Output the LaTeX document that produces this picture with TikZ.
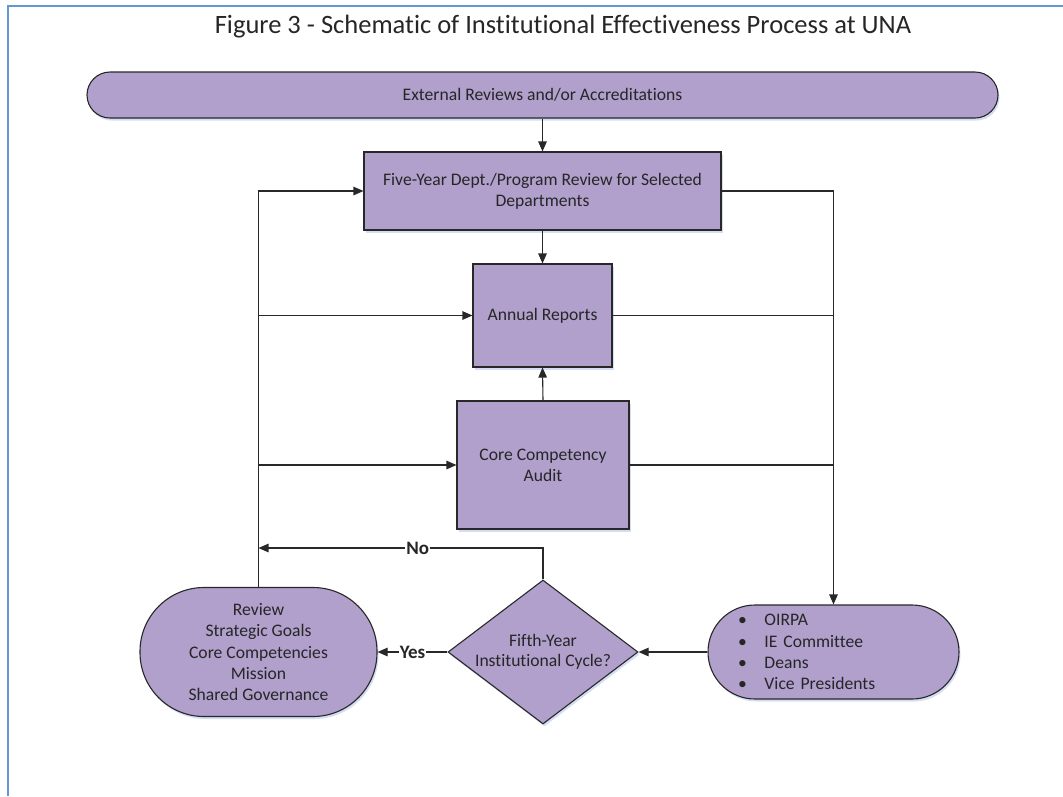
\documentclass[tikz,border=0pt]{standalone}
\usepackage{fontspec}
\setmainfont{Carlito}[Ligatures=NoCommon]
\usetikzlibrary{arrows.meta,shapes.geometric,shadows}
\definecolor{boxfill}{RGB}{177,159,204}
\definecolor{boxline}{RGB}{40,40,40}
\definecolor{txt}{RGB}{38,38,38}
\definecolor{framecol}{RGB}{100,150,210}
\definecolor{shadowcol}{RGB}{212,222,242}
\newcommand\oirbul{\makebox[26.5pt][l]{•}}
\begin{document}
\begin{tikzpicture}[x=1pt,y=-1pt,
  shp/.style={draw=boxline, fill=boxfill, line width=1.1pt, text=txt,
    font=\fontsize{17.6}{21.3}\selectfont, align=center, inner sep=0pt,
    drop shadow={shadow xshift=1.5pt, shadow yshift=-2.5pt, fill=shadowcol, opacity=1}},
  plaintext/.style={text=txt, font=\fontsize{17.6}{20.5}\selectfont, align=center, inner sep=0pt},
  arr/.style={draw=boxline, line width=1.1pt, -{Triangle[length=10pt,width=8.5pt]}},
  ln/.style={draw=boxline, line width=1.1pt},
  lbl/.style={fill=white, text=txt, font=\bfseries\fontsize{19}{22}\selectfont, inner sep=1pt}
]
\useasboundingbox (0,0) rectangle (1063,796);
\draw[framecol, line width=1.5pt] (8,796) -- (8,6) -- (1063,6);

\node[text=txt, font=\fontsize{26.5}{30}\selectfont, anchor=base, inner sep=0pt] (title) at (563,33)
  {Figure 3 - Schematic of Institutional Effectiveness Process at UNA};

\node[shp, rounded corners=23pt, minimum width=911pt, minimum height=46pt] (ext) at (542.5,95)
  {External Reviews and/or Accreditations};
\node[shp, minimum width=357pt, minimum height=78pt] (five) at (542.5,191)
  {Five-Year Dept./Program Review for Selected\\Departments};
\node[shp, minimum width=139pt, minimum height=103pt] (ann) at (542.5,315.5)
  {Annual Reports};
\node[shp, minimum width=172pt, minimum height=128pt] (core) at (543,465)
  {Core Competency\\Audit};
\node[shp, rounded corners=64pt, minimum width=237pt, minimum height=129pt] (rev) at (258.5,652)
  {Review\\Strategic Goals\\Core Competencies\\Mission\\Shared Governance};
\node[shp, diamond, minimum width=190pt, minimum height=144pt] (dia) at (543,652) {};
\node[plaintext] (diatext) at (dia.center) {Fifth-Year\\Institutional Cycle?};
\node[shp, rounded corners=47pt, minimum width=251pt, minimum height=94pt,
  text width=191pt, inner xsep=30pt, align=left] (oirpa) at (833.5,652)
  {\oirbul OIRPA\\\oirbul IE Committee\\\oirbul Deans\\\oirbul Vice Presidents};

\draw[arr] (ext.south) -- (five.north);
\draw[arr] (five.south) -- (ann.north);
\draw[arr] (core.north) -- (ann.south);
\draw[arr] (rev.north) |- (five.west);
\draw[arr] (rev.north |- ann.west) -- (ann.west);
\draw[arr] (rev.north |- core.west) -- (core.west);
\draw[arr] (five.east) -| (oirpa.north);
\draw[ln] (ann.east) -- (ann.east -| oirpa.north);
\draw[ln] (core.east) -- (core.east -| oirpa.north);
\coordinate (nolevel) at (0,548);
\coordinate (noend) at (rev.north |- nolevel);
\draw[arr] (dia.north) |- node[lbl, pos=0.72] (nolbl) {No} (noend);
\draw[arr] (oirpa.west) -- (dia.east);
\draw[arr] (dia.west) -- node[lbl] (yeslbl) {Yes} (rev.east);
\end{tikzpicture}
\end{document}
